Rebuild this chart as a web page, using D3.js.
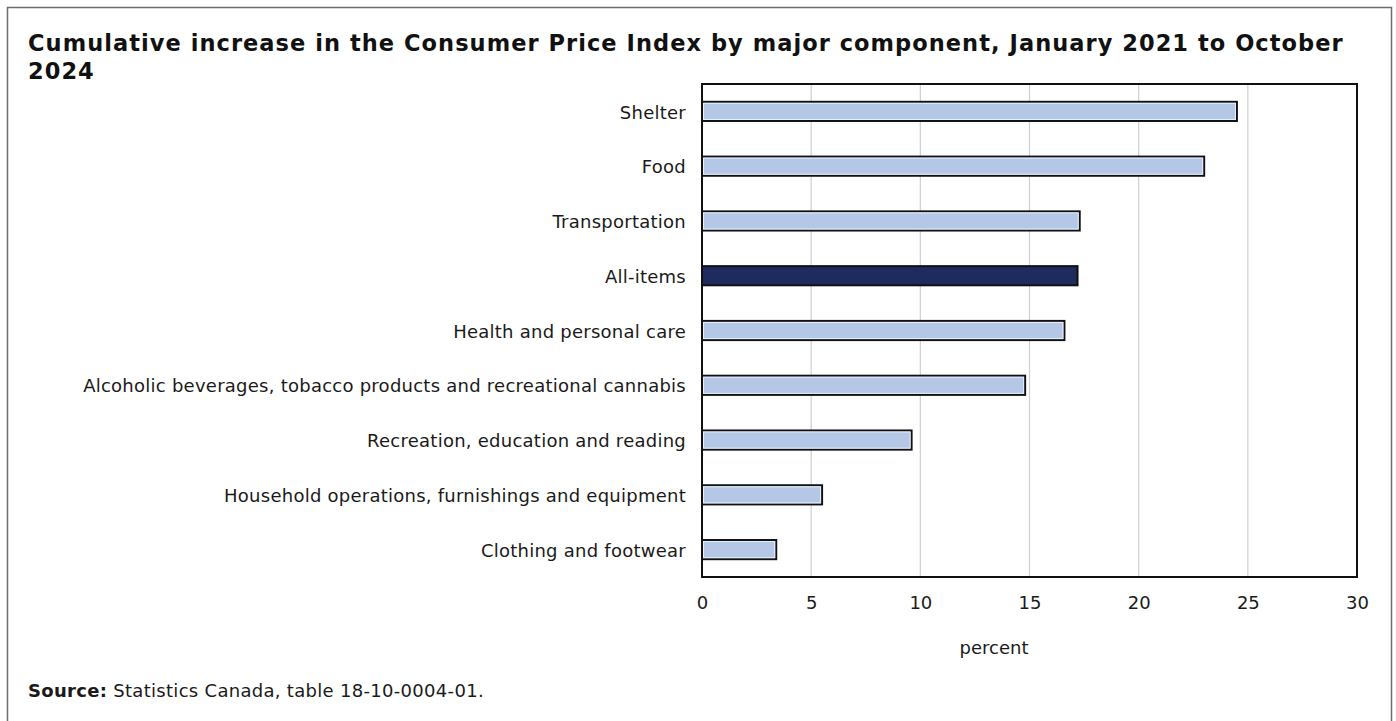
<!DOCTYPE html>
<html>
<head>
<meta charset="utf-8">
<script src="https://cdn.jsdelivr.net/npm/d3@7"></script>
<style>
  html, body { margin: 0; padding: 0; background: #fff; }
  svg { display: block; font-family: "DejaVu Sans", Verdana, sans-serif; }
</style>
</head>
<body>
<svg id="chart" width="1396" height="721"></svg>
<script>
// Cumulative CPI increase by major component, Jan 2021 to Oct 2024 (percent)
const categories = [
  "Shelter",
  "Food",
  "Transportation",
  "All-items",
  "Health and personal care",
  "Alcoholic beverages, tobacco products and recreational cannabis",
  "Recreation, education and reading",
  "Household operations, furnishings and equipment",
  "Clothing and footwear"
];
const values = [24.5, 23.0, 17.3, 17.2, 16.6, 14.8, 9.6, 5.5, 3.4];
const highlighted = ["All-items"];
const xTicks = [0, 5, 10, 15, 20, 25, 30];
const titleLines = [
  "Cumulative increase in the Consumer Price Index by major component, January 2021 to October",
  "2024"
];

const svg = d3.select("#chart");
const W = 1396, H = 721;
const plot = { left: 702, right: 1357, top: 84, bottom: 577 };
const FONT = "DejaVu Sans, Verdana, sans-serif";

// outer frame
svg.append("rect")
  .attr("x", 7.5).attr("y", 7.5)
  .attr("width", 1384).attr("height", H + 10)
  .attr("fill", "#fff").attr("stroke", "#6e6e6e").attr("stroke-width", 1.5);

// title
const title = svg.append("text")
  .attr("font-weight", "bold").attr("font-size", 22.5)
  .attr("letter-spacing", 1.05).attr("fill", "#111");
title.selectAll("tspan").data(titleLines).join("tspan")
  .attr("x", 28).attr("y", (d, i) => 51 + i * 28)
  .text(d => d);

const x = d3.scaleLinear().domain([0, 30]).range([plot.left, plot.right]);
const y = d3.scaleBand().domain(categories).range([plot.top, plot.bottom]).paddingInner(0.65).paddingOuter(0.325);

// vertical gridlines
svg.append("g").selectAll("line").data(xTicks.filter(t => t > 0 && t < 30)).join("line")
  .attr("x1", d => x(d)).attr("x2", d => x(d))
  .attr("y1", plot.top).attr("y2", plot.bottom)
  .attr("stroke", "#cfcfcf").attr("stroke-width", 1.2);

// bars
const bars = svg.append("g");
categories.forEach((c, i) => {
  const x0 = x(0), x1 = x(values[i]);
  const y0 = y(c), h = y.bandwidth();
  bars.append("rect")
    .attr("x", x0).attr("y", y0)
    .attr("width", x1 - x0).attr("height", h)
    .attr("fill", highlighted.includes(c) ? "#1f2a5e" : "#b4c7e7")
    .attr("stroke", "#111").attr("stroke-width", 2);
  if (!highlighted.includes(c)) {
    bars.append("rect")
      .attr("x", x0 + 1.5).attr("y", y0 + 1.5)
      .attr("width", x1 - x0 - 3).attr("height", h - 3)
      .attr("fill", "none")
      .attr("stroke", "#e8f0fb").attr("stroke-width", 1);
  }
});

// plot frame
svg.append("rect")
  .attr("x", plot.left).attr("y", plot.top)
  .attr("width", plot.right - plot.left).attr("height", plot.bottom - plot.top)
  .attr("fill", "none").attr("stroke", "#111").attr("stroke-width", 2);

// category labels
const yAxis = svg.append("g")
  .attr("transform", `translate(${plot.left},0)`)
  .call(d3.axisLeft(y).tickSize(0).tickPadding(16));
yAxis.select(".domain").remove();
yAxis.selectAll("text")
  .attr("font-size", 18).attr("letter-spacing", 0.25).attr("fill", "#1a1a1a")
  .attr("font-family", FONT)
  .attr("dy", "0.4em");

// x axis tick labels
const xAxis = svg.append("g")
  .attr("transform", `translate(0,${plot.bottom})`)
  .call(d3.axisBottom(x).tickValues(xTicks).tickSize(0).tickPadding(19));
xAxis.select(".domain").remove();
xAxis.selectAll("text")
  .attr("font-size", 18).attr("fill", "#1a1a1a")
  .attr("font-family", FONT);

// axis title
svg.append("text")
  .attr("x", 994).attr("y", 654)
  .attr("text-anchor", "middle")
  .attr("font-size", 18).attr("fill", "#1a1a1a")
  .text("percent");

// source note
const src = svg.append("text")
  .attr("x", 28).attr("y", 697)
  .attr("font-size", 18).attr("letter-spacing", 0.3).attr("fill", "#1a1a1a");
src.append("tspan").attr("font-weight", "bold").text("Source:");
src.append("tspan").text(" Statistics Canada, table 18-10-0004-01.");
</script>
</body>
</html>
